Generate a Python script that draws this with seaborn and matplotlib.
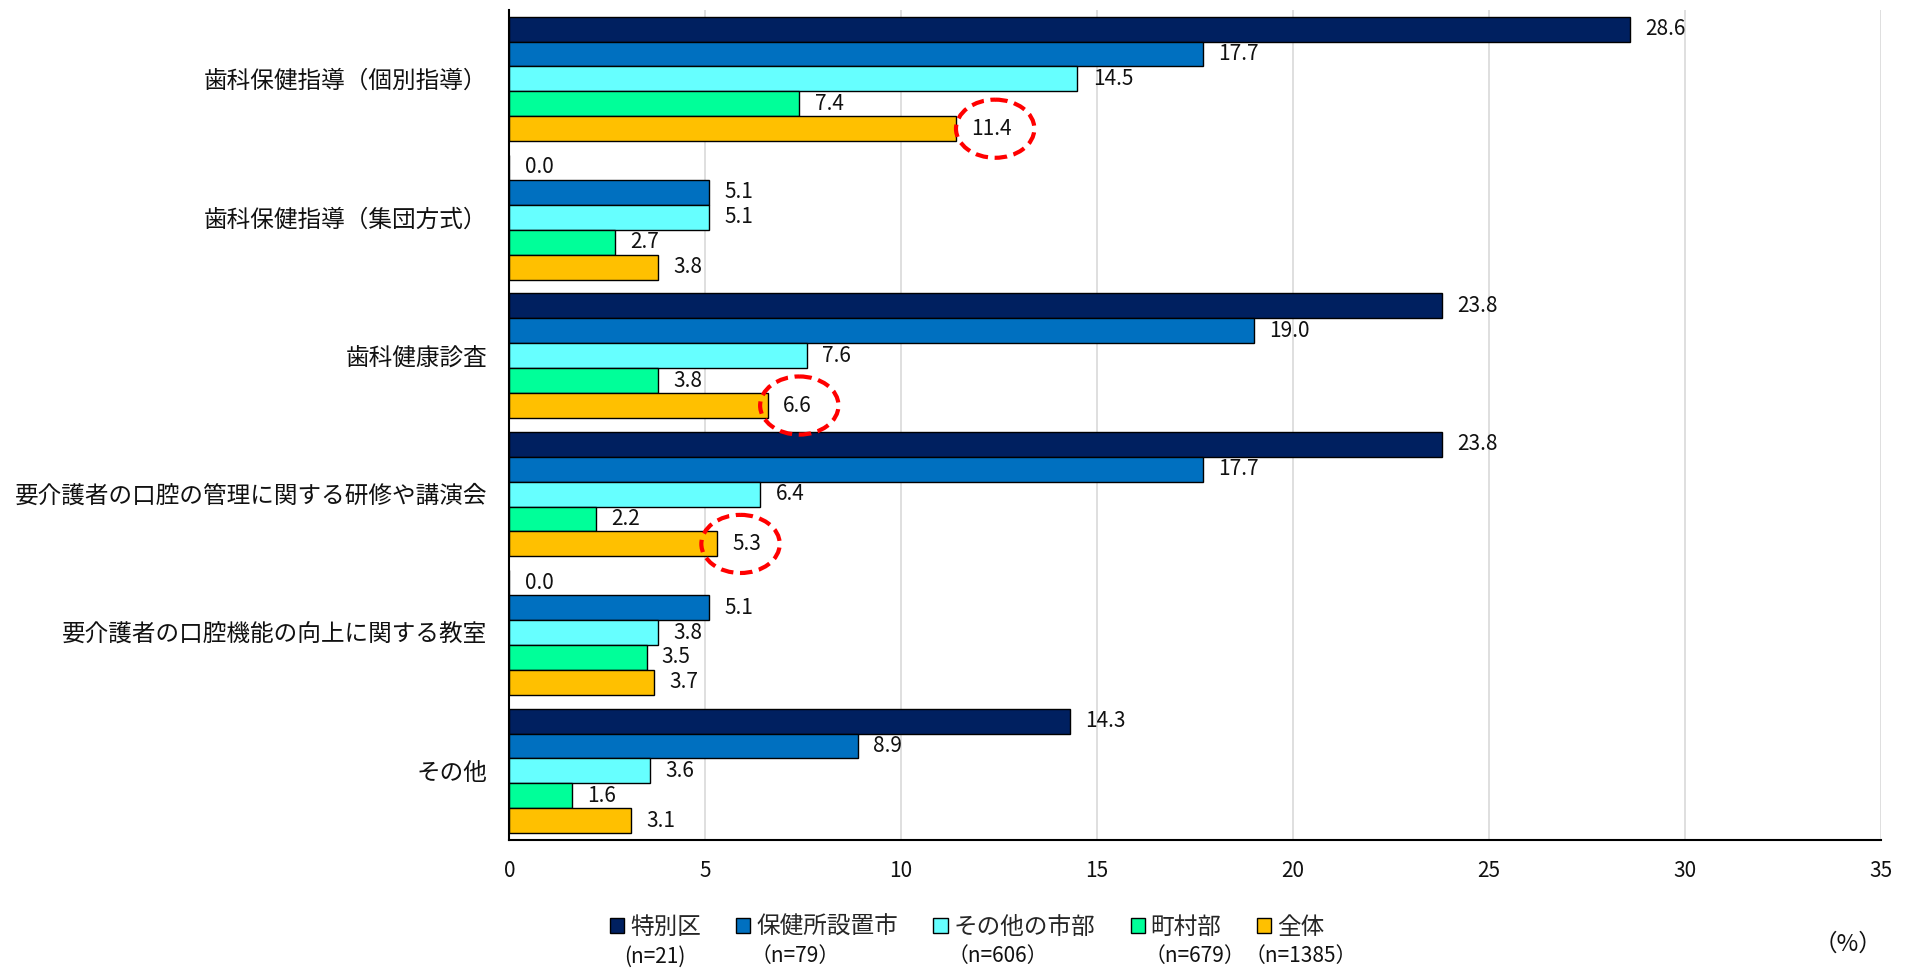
import matplotlib
matplotlib.use("Agg")
import matplotlib.pyplot as plt
from matplotlib.patches import Ellipse, Patch
import seaborn as sns
import pandas as pd

categories = [
    "歯科保健指導（個別指導）",
    "歯科保健指導（集団方式）",
    "歯科健康診査",
    "要介護者の口腔の管理に関する研修や講演会",
    "要介護者の口腔機能の向上に関する教室",
    "その他",
]
groups = ["特別区", "保健所設置市", "その他の市部", "町村部", "全体"]
group_n = ["(n=21)", "（n=79）", "（n=606）", "（n=679）", "（n=1385）"]
tokubetsu = [28.6, 0.0, 23.8, 23.8, 0.0, 14.3]
hokenjo = [17.7, 5.1, 19.0, 17.7, 5.1, 8.9]
sonota_shi = [14.5, 5.1, 7.6, 6.4, 3.8, 3.6]
chouson = [7.4, 2.7, 3.8, 2.2, 3.5, 1.6]
zentai = [11.4, 3.8, 6.6, 5.3, 3.7, 3.1]
highlighted = ["歯科保健指導（個別指導）", "歯科健康診査", "要介護者の口腔の管理に関する研修や講演会"]
xticks = [0, 5, 10, 15, 20, 25, 30, 35]

colors = ["#002060", "#0070C0", "#66FFFF", "#00FF99", "#FFC000"]

series = [tokubetsu, hokenjo, sonota_shi, chouson, zentai]
rows = []
for g, vals in zip(groups, series):
    for c, v in zip(categories, vals):
        rows.append({"category": c, "group": g, "value": v})
df = pd.DataFrame(rows)

sns.set_theme(style="white")
plt.rcParams["font.family"] = ["Noto Sans CJK JP", "DejaVu Sans"]

fig = plt.figure(figsize=(19.15, 9.69), dpi=100)
ax = fig.add_axes([0.266, 0.133, 0.716, 0.857])

sns.barplot(data=df, y="category", x="value", hue="group", order=categories,
            hue_order=groups, palette=colors, orient="h", width=0.9,
            edgecolor="black", linewidth=1.0, saturation=1, ax=ax, legend=False,
            errorbar=None)

for cont in ax.containers:
    ax.bar_label(cont, fmt="%.1f", padding=11, fontsize=15, color="#111111")

ax.set_xlim(0, 35)
ax.set_ylim(len(categories) - 0.5, -0.5)
ax.set_xticks(xticks)
ax.set_xticklabels([str(t) for t in xticks])
ax.set_xlabel("")
ax.set_ylabel("")
ax.grid(axis="x", color="#d9d9d9", linewidth=1.2)
ax.set_axisbelow(True)
for s in ["top", "right"]:
    ax.spines[s].set_visible(False)
for s in ["left", "bottom"]:
    ax.spines[s].set_color("black")
    ax.spines[s].set_linewidth(1.5)
ax.tick_params(axis="y", length=0, pad=16, labelsize=17, labelcolor="#111111")
ax.tick_params(axis="x", length=0, pad=14, labelsize=15, labelcolor="#111111")

# red dashed ellipses around highlighted 全体 labels
ell_offsets = [1.0, 0.8, 0.6]
zcont = ax.containers[groups.index("全体")]
for c, off in zip(highlighted, ell_offsets):
    i = categories.index(c)
    p = zcont.patches[i]
    v = zentai[i]
    yc = p.get_y() + p.get_height() / 2
    ax.add_patch(Ellipse((v + off, yc), 2.0, 0.42, fill=False, edgecolor="#FF0000",
                         linestyle=(0, (3, 1.6)), linewidth=3, zorder=5, clip_on=False))

handles = [Patch(facecolor=col, edgecolor="black", linewidth=1.0) for col in colors]
leg = fig.legend(handles, groups, loc="center", bbox_to_anchor=(0.505, 0.043), ncol=5,
                 frameon=False, fontsize=17, handlelength=0.6, handleheight=0.6,
                 handletextpad=0.25, columnspacing=1.5)

fig.canvas.draw()
inv = fig.transFigure.inverted()
for i, t in enumerate(leg.get_texts()):
    bb = t.get_window_extent()
    x0, _ = inv.transform((bb.x0, bb.y0))
    x1, _ = inv.transform((bb.x1, bb.y0))
    if i == len(groups) - 1:
        fig.text((x0 + x1) / 2, 0.013, group_n[i], ha="center", va="center", fontsize=15, color="#111111")
    else:
        fig.text(x0 - 0.003, 0.013, group_n[i], ha="left", va="center", fontsize=15, color="#111111")

fig.text(0.965, 0.026, "（%）", ha="center", va="center", fontsize=17, color="#111111")

fig.savefig("out.png", dpi=100, facecolor="white")
